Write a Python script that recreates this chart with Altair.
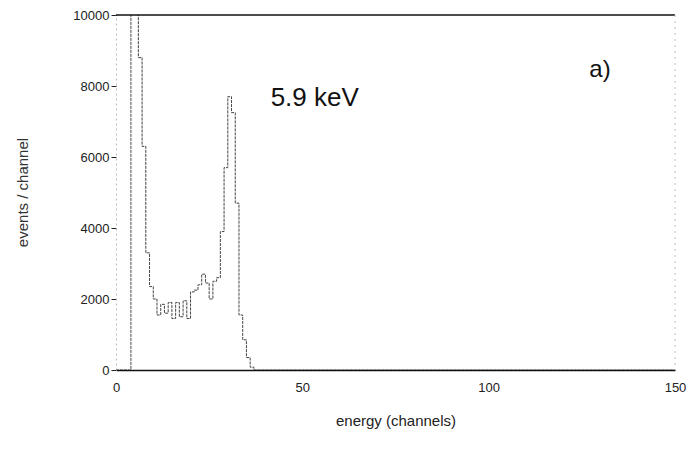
import altair as alt
import pandas as pd

# histogram counts per channel (channels 0..40), rest are zero up to 150
counts_head = [0, 0, 0, 0, 10400, 10400, 8800, 6300, 3300, 2350,
               2000, 1550, 1850, 1600, 1900, 1450, 1900, 1500, 1950, 1450,
               2200, 2250, 2400, 2700, 2450, 2000, 2500, 2600, 3900, 5700,
               7700, 7250, 4700, 1550, 850, 350, 80, 0, 0, 0]
n_channels = 150
counts = counts_head + [0] * (n_channels + 1 - len(counts_head))
channels = list(range(n_channels + 1))

y_ticks = [0, 2000, 4000, 6000, 8000, 10000]
x_ticks = [0, 50, 100, 150]

df = pd.DataFrame({"channel": channels, "count": counts})

FONT = "Liberation Sans"

x_scale = alt.Scale(domain=[0, 150], nice=False, zero=False)
y_scale = alt.Scale(domain=[0, 10000], nice=False)

hist = alt.Chart(df).mark_line(
    interpolate="step-after", color="#444444", strokeWidth=1,
    strokeDash=[3, 1], clip=True
).encode(
    x=alt.X("channel:Q", scale=x_scale,
            axis=alt.Axis(title="energy (channels)", values=x_ticks,
                          format="d", grid=False, ticks=False,
                          labelFlush=False,
                          labelPadding=11, labelFontSize=13,
                          labelColor="#222", titleFontSize=15,
                          titleFontWeight="normal", titleColor="#222",
                          titleY=50, titleBaseline="middle",
                          domainColor="#111", domainWidth=1.5,
                          labelFont=FONT, titleFont=FONT)),
    y=alt.Y("count:Q", scale=y_scale,
            axis=alt.Axis(title="events / channel", values=y_ticks,
                          format="d", grid=False, tickSize=5,
                          tickColor="#222", labelPadding=2,
                          labelFontSize=13, labelColor="#222",
                          titleFontSize=15, titleFontWeight="normal",
                          titleColor="#333", titleX=-94, titleY=177,
                          titleAlign="center", titleBaseline="middle",
                          titleAngle=-90,
                          domainColor="#bbbbbb", domainWidth=1,
                          domainDash=[2, 3],
                          labelFont=FONT, titleFont=FONT)),
)

frame_top = alt.Chart(pd.DataFrame({"y": [10000]})).mark_rule(
    color="#111", strokeWidth=1.5
).encode(y=alt.Y("y:Q", scale=y_scale))

frame_right = alt.Chart(pd.DataFrame({"x": [150]})).mark_rule(
    color="#bbbbbb", strokeWidth=1, strokeDash=[2, 4]
).encode(x=alt.X("x:Q", scale=x_scale))

labels = pd.DataFrame({
    "x": [41.5, 127.0],
    "y": [7650, 8450],
    "text": ["5.9 keV", "a)"],
})

text1 = alt.Chart(labels.iloc[[0]]).mark_text(
    align="left", baseline="middle", fontSize=26, font=FONT, color="#111"
).encode(x=alt.X("x:Q", scale=x_scale), y=alt.Y("y:Q", scale=y_scale),
         text="text:N")

text2 = alt.Chart(labels.iloc[[1]]).mark_text(
    align="left", baseline="middle", fontSize=24, font=FONT, color="#111"
).encode(x=alt.X("x:Q", scale=x_scale), y=alt.Y("y:Q", scale=y_scale),
         text="text:N")

chart = alt.layer(hist, frame_top, frame_right, text1, text2).properties(
    width=559, height=355,
    autosize=alt.AutoSizeParams(type="none"),
    padding={"left": 116, "top": 15, "right": 16, "bottom": 98},
    background="white",
).configure_view(stroke=None)

chart.save("out.html", embed_options={"renderer": "svg", "actions": False})
